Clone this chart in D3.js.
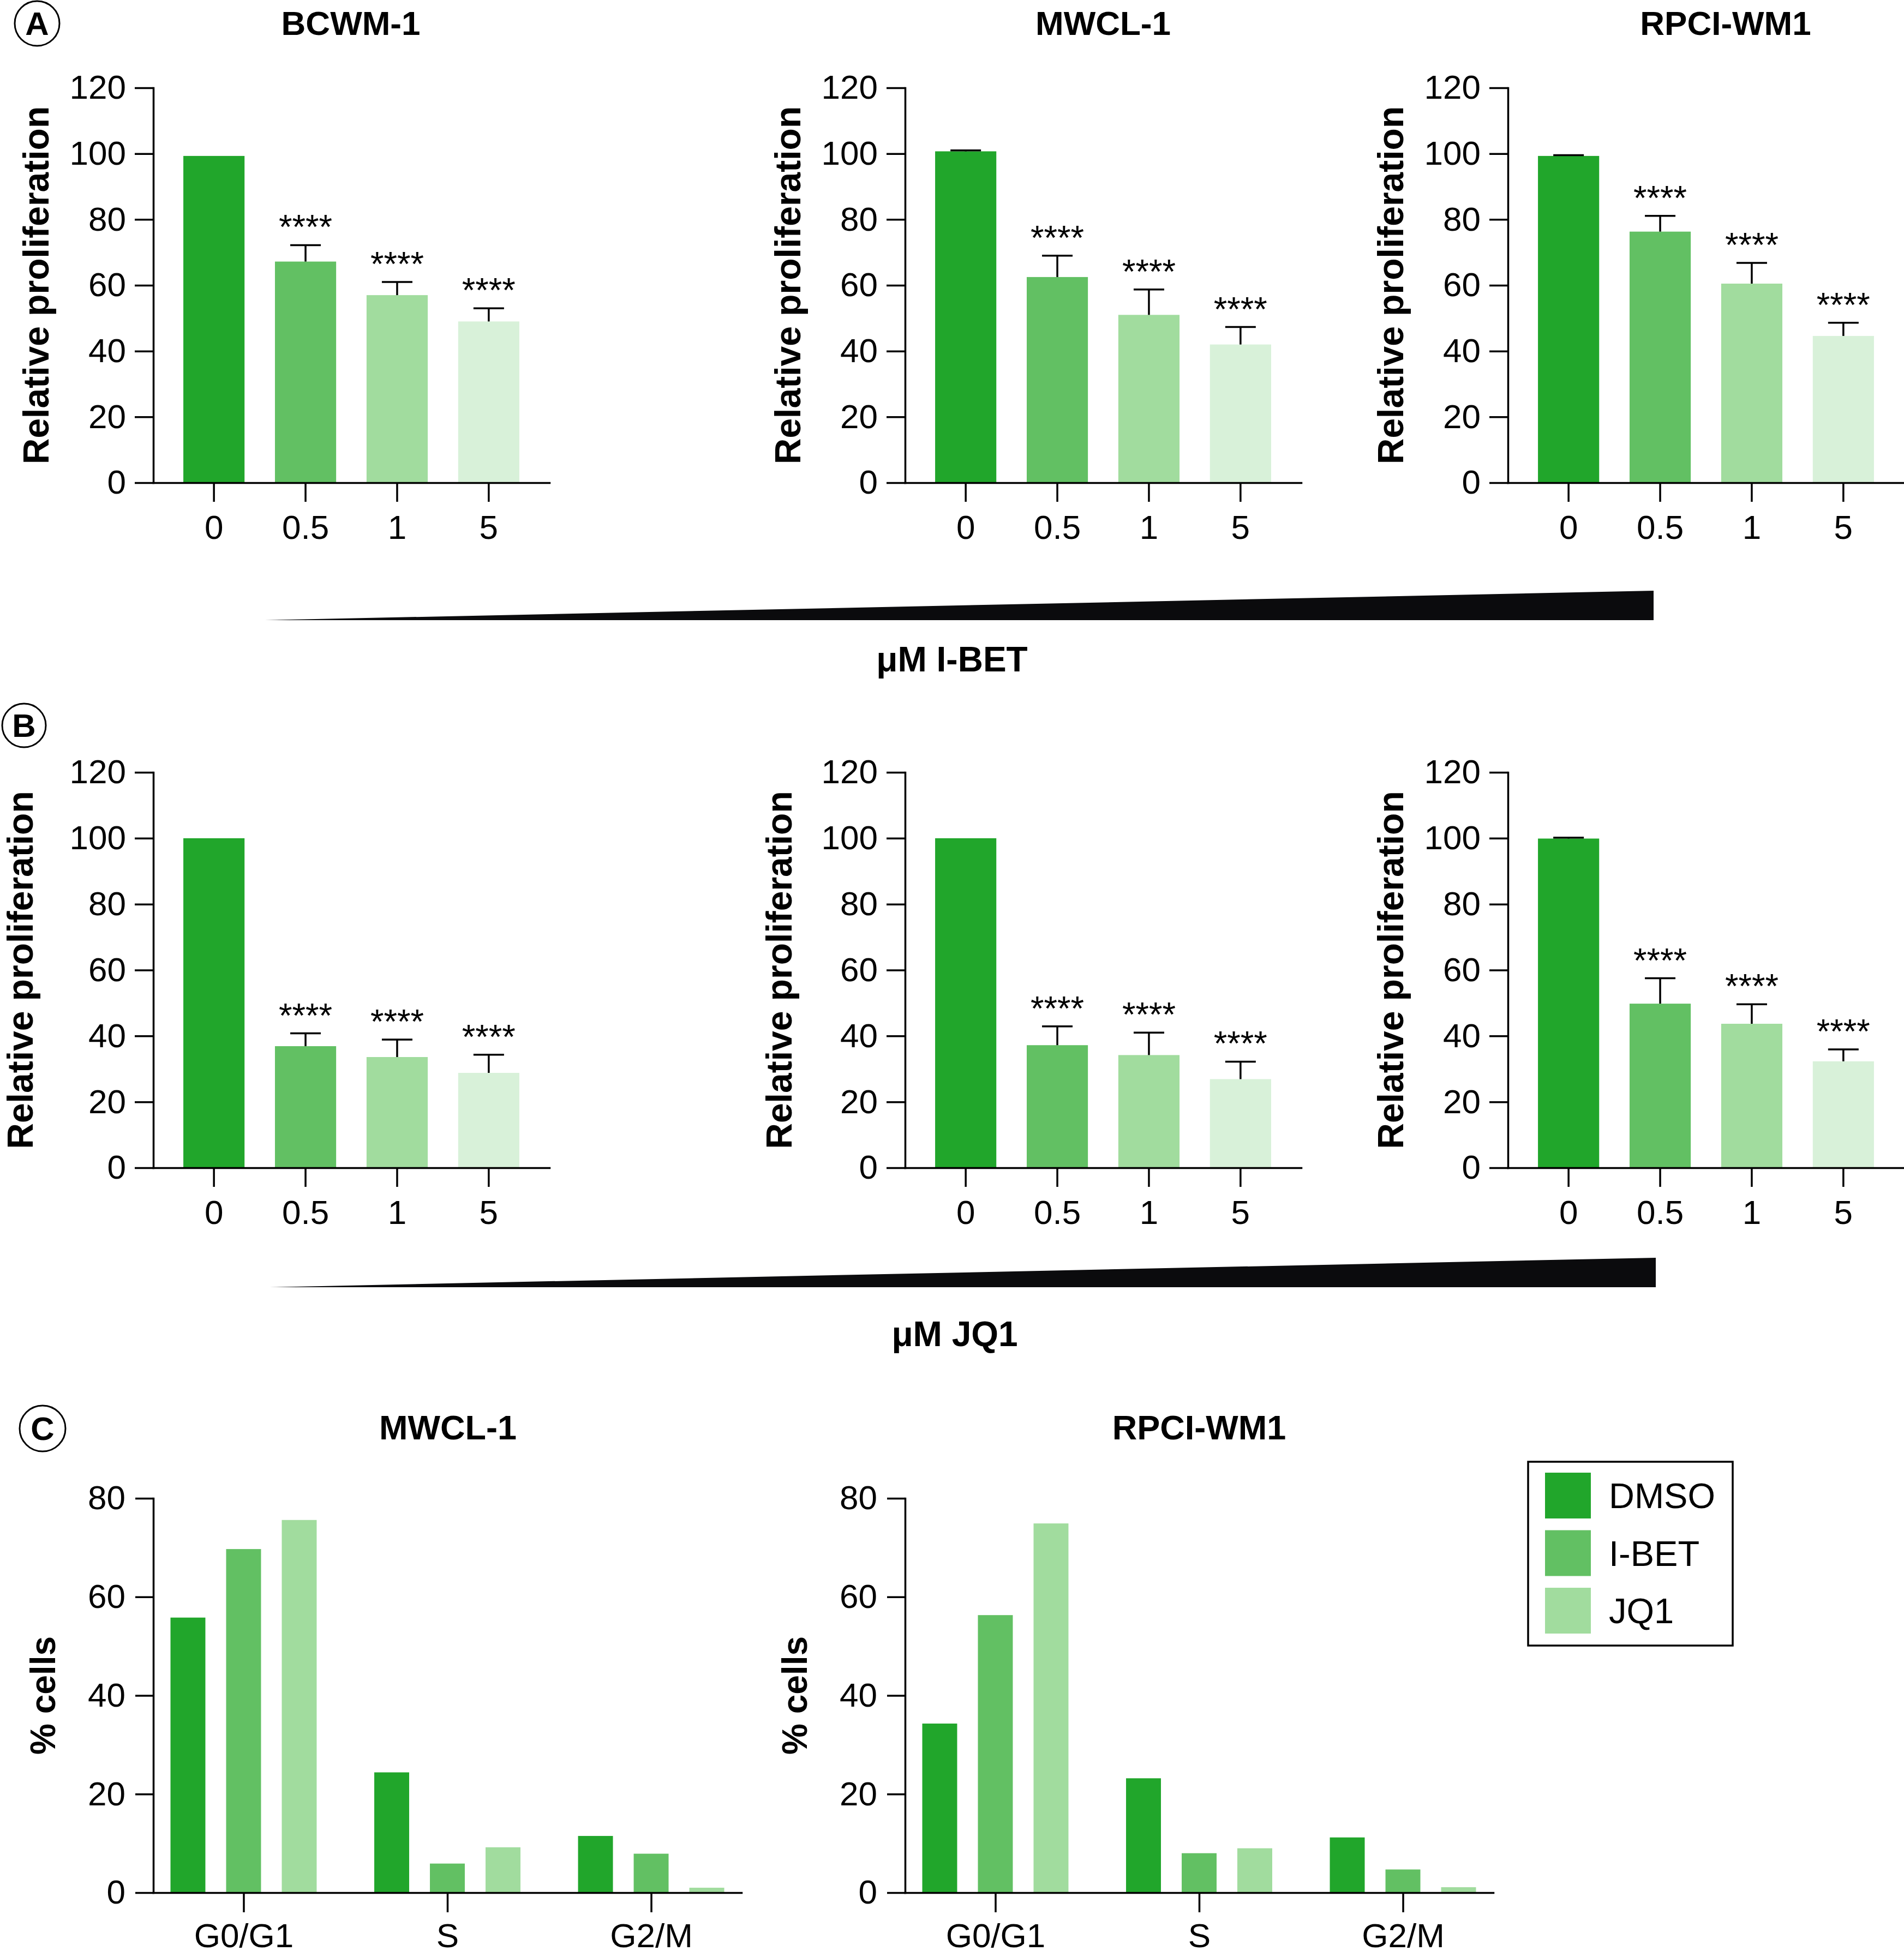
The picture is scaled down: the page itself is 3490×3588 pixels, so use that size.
<!DOCTYPE html>
<html>
<head>
<meta charset="utf-8">
<script src="https://cdn.jsdelivr.net/npm/d3@7"></script>
<style>
  html, body { margin: 0; padding: 0; background: #ffffff; }
  svg { display: block; }
  text { font-family: "Liberation Sans", Arial, Helvetica, sans-serif; fill: #000; }
</style>
</head>
<body>
<script>
// ---------------- DATA ----------------
const doses = ["0", "0.5", "1", "5"];
const cellLines = ["BCWM-1", "MWCL-1", "RPCI-WM1"];
const yTicksProlif = [0, 20, 40, 60, 80, 100, 120];

// Panel A: I-BET (relative proliferation, mean and upper error)
const ibetBCWM1 = [99.3, 67.2, 57.0, 49.0];
const ibetBCWM1Err = [0, 5.0, 4.0, 4.0];
const ibetMWCL1 = [100.7, 62.5, 51.0, 42.0];
const ibetMWCL1Err = [0.3, 6.5, 7.7, 5.3];
const ibetRPCI = [99.3, 76.3, 60.5, 44.6];
const ibetRPCIErr = [0.25, 4.8, 6.3, 4.0];

// Panel B: JQ1
const jq1BCWM1 = [100, 36.9, 33.6, 28.8];
const jq1BCWM1Err = [0, 3.9, 5.3, 5.5];
const jq1MWCL1 = [100, 37.2, 34.2, 26.9];
const jq1MWCL1Err = [0, 5.7, 6.8, 5.3];
const jq1RPCI = [99.9, 49.8, 43.7, 32.3];
const jq1RPCIErr = [0.3, 7.7, 5.9, 3.6];

const sigLabels = ["", "****", "****", "****"];

// Panel C: cell cycle (% cells), rows = phases, columns = treatments
const phases = ["G0/G1", "S", "G2/M"];
const treatments = ["DMSO", "I-BET", "JQ1"];
const yTicksCycle = [0, 20, 40, 60, 80];
const cycleMWCL1 = [[55.8, 69.7, 75.6], [24.4, 5.9, 9.2], [11.5, 7.9, 1.0]];
const cycleRPCI = [[34.3, 56.3, 74.9], [23.2, 8.0, 9.0], [11.2, 4.7, 1.1]];

// ---------------- STYLE ----------------
const doseColors = ["#21a62b", "#62c063", "#a1dc9e", "#d8f1d9"];
const treatColors = ["#21a62b", "#62c063", "#a1dc9e"];
const FONT = '"Liberation Sans", Arial, Helvetica, sans-serif';
const LW = 3.5;

const W = 3490, H = 3588;
const svg = d3.select("body").append("svg")
  .attr("width", W).attr("height", H)
  .attr("viewBox", `0 0 ${W} ${H}`);
svg.append("rect").attr("width", W).attr("height", H).attr("fill", "#fff");

function styleAxis(g, fs) {
  g.selectAll(".domain").attr("stroke", "#000").attr("stroke-width", LW).attr("stroke-linecap", "square");
  g.selectAll(".tick line").attr("stroke", "#000").attr("stroke-width", LW);
  g.selectAll(".tick text").attr("font-size", fs).attr("font-family", FONT).attr("fill", "#000");
}

function circleLabel(cx, cy, r, letter) {
  svg.append("circle").attr("cx", cx).attr("cy", cy).attr("r", r)
    .attr("fill", "none").attr("stroke", "#000").attr("stroke-width", 3);
  svg.append("text").attr("x", cx).attr("y", cy + 21)
    .attr("text-anchor", "middle").attr("font-size", 60).attr("font-weight", "bold")
    .text(letter);
}

// ---- proliferation bar chart ----
function prolifChart(x0, y0, y120, vals, errs, labelOffset) {
  const width = 726;
  const g = svg.append("g");
  const x = d3.scaleBand().domain(doses).range([x0, x0 + width])
    .paddingInner(0.332).paddingOuter(0.328);
  const y = d3.scaleLinear().domain([0, 120]).range([y0, y120]);

  g.selectAll("rect.bar").data(doses).join("rect")
    .attr("class", "bar")
    .attr("x", d => x(d))
    .attr("width", x.bandwidth())
    .attr("y", (d, i) => y(vals[i]))
    .attr("height", (d, i) => y(0) - y(vals[i]))
    .attr("fill", (d, i) => doseColors[i]);

  // error bars (upper only)
  const capHalf = 28;
  const eb = g.selectAll("g.err").data(doses.filter((d, i) => errs[i] > 0)).join("g").attr("class", "err");
  eb.append("line")
    .attr("x1", d => x(d) + x.bandwidth() / 2).attr("x2", d => x(d) + x.bandwidth() / 2)
    .attr("y1", d => y(vals[doses.indexOf(d)]))
    .attr("y2", d => y(vals[doses.indexOf(d)] + errs[doses.indexOf(d)]))
    .attr("stroke", "#000").attr("stroke-width", LW);
  eb.append("line")
    .attr("x1", d => x(d) + x.bandwidth() / 2 - capHalf).attr("x2", d => x(d) + x.bandwidth() / 2 + capHalf)
    .attr("y1", d => y(vals[doses.indexOf(d)] + errs[doses.indexOf(d)]))
    .attr("y2", d => y(vals[doses.indexOf(d)] + errs[doses.indexOf(d)]))
    .attr("stroke", "#000").attr("stroke-width", LW);

  // significance stars
  g.selectAll("text.sig").data(doses).join("text")
    .attr("class", "sig")
    .attr("x", d => x(d) + x.bandwidth() / 2)
    .attr("y", (d, i) => y(vals[i] + errs[i]) - 12)
    .attr("text-anchor", "middle").attr("font-size", 63)
    .text((d, i) => sigLabels[i]);

  const ya = g.append("g").attr("transform", `translate(${x0},0)`)
    .call(d3.axisLeft(y).tickValues(yTicksProlif).tickFormat(d3.format("d"))
      .tickSize(34).tickPadding(16).tickSizeOuter(0));
  styleAxis(ya, 62);
  const xa = g.append("g").attr("transform", `translate(0,${y0})`)
    .call(d3.axisBottom(x).tickSize(35).tickPadding(24).tickSizeOuter(0));
  styleAxis(xa, 62);

  g.append("text")
    .attr("transform", `translate(${x0 - labelOffset},${(y0 + y120) / 2}) rotate(-90)`)
    .attr("text-anchor", "middle").attr("font-size", 66).attr("font-weight", "bold")
    .text("Relative proliferation");
}

// ---- cell cycle grouped bar chart ----
function cycleChart(x0, y0, y80, data, title, titleX) {
  const width = 1078;
  const g = svg.append("g");
  const x = d3.scalePoint().domain(phases).range([x0, x0 + width]).padding(0.443);
  const xs = d3.scaleBand().domain(treatments).range([-153, 153])
    .paddingInner(0.373).paddingOuter(0.1865);
  const y = d3.scaleLinear().domain([0, 80]).range([y0, y80]);

  const grp = g.selectAll("g.phase").data(phases).join("g")
    .attr("class", "phase")
    .attr("transform", d => `translate(${x(d)},0)`);
  grp.selectAll("rect").data((d, i) => data[i].map((v, j) => ({ v, t: treatments[j], j })))
    .join("rect")
    .attr("x", d => xs(d.t))
    .attr("width", xs.bandwidth())
    .attr("y", d => y(d.v))
    .attr("height", d => y(0) - y(d.v))
    .attr("fill", d => treatColors[d.j]);

  const ya = g.append("g").attr("transform", `translate(${x0},0)`)
    .call(d3.axisLeft(y).tickValues(yTicksCycle).tickSize(33).tickPadding(18).tickSizeOuter(0));
  styleAxis(ya, 62);
  const xa = g.append("g").attr("transform", `translate(0,${y0})`)
    .call(d3.axisBottom(x).tickSize(36).tickPadding(20).tickSizeOuter(0));
  styleAxis(xa, 62);

  g.append("text")
    .attr("transform", `translate(${x0 - 180},${(y0 + y80) / 2}) rotate(-90)`)
    .attr("text-anchor", "middle").attr("font-size", 64).attr("font-weight", "bold")
    .text("% cells");

  g.append("text").attr("x", titleX).attr("y", 2639)
    .attr("text-anchor", "middle").attr("font-size", 63).attr("font-weight", "bold")
    .text(title);
}

// ---- dose wedge ----
function wedge(xLeft, xRight, yBase, hMax, label, labelX, labelY) {
  const wx = d3.scaleLinear().domain([0, 1]).range([xLeft, xRight]);
  const wh = d3.scaleLinear().domain([0, 1]).range([0, hMax]);
  const pts = [[wx(0), yBase - wh(0)], [wx(1), yBase - wh(1)], [wx(1), yBase], [wx(0), yBase]];
  svg.append("path").attr("d", d3.line()(pts) + "Z").attr("fill", "#0b0b0d");
  svg.append("text").attr("x", labelX).attr("y", labelY)
    .attr("text-anchor", "middle").attr("font-size", 64).attr("font-weight", "bold")
    .text(label);
}

// ---------------- LAYOUT ----------------
const chartX = [281, 1659, 2764];

// Panel A
circleLabel(68, 43, 41, "A");
const titleAX = [643, 2022, 3163];
cellLines.forEach((c, i) => {
  svg.append("text").attr("x", titleAX[i]).attr("y", 64)
    .attr("text-anchor", "middle").attr("font-size", 62).attr("font-weight", "bold").text(c);
});
prolifChart(chartX[0], 885, 161, ibetBCWM1, ibetBCWM1Err, 192);
prolifChart(chartX[1], 885, 161, ibetMWCL1, ibetMWCL1Err, 192);
prolifChart(chartX[2], 885, 161, ibetRPCI, ibetRPCIErr, 192);
wedge(486, 3031, 1137, 54, "μM I-BET", 1745, 1231);

// Panel B
circleLabel(44, 1330, 40, "B");
prolifChart(chartX[0], 2141, 1416, jq1BCWM1, jq1BCWM1Err, 221);
prolifChart(chartX[1], 2141, 1416, jq1MWCL1, jq1MWCL1Err, 208);
prolifChart(chartX[2], 2141, 1416, jq1RPCI, jq1RPCIErr, 192);
wedge(494, 3035, 2360, 54, "μM JQ1", 1750, 2468);

// Panel C
circleLabel(78, 2619, 42, "C");
cycleChart(chartX[0], 3470, 2747, cycleMWCL1, "MWCL-1", 821);
cycleChart(chartX[1], 3470, 2747, cycleRPCI, "RPCI-WM1", 2198);

// Legend
const lg = svg.append("g");
lg.append("rect").attr("x", 2801).attr("y", 2680).attr("width", 375).attr("height", 337)
  .attr("fill", "none").attr("stroke", "#000").attr("stroke-width", 3.5);
const legY = d3.scalePoint().domain(treatments).range([2742, 2953]);
lg.selectAll("rect.sw").data(treatments).join("rect")
  .attr("class", "sw")
  .attr("x", 2832).attr("y", d => legY(d) - 42)
  .attr("width", 84).attr("height", 84)
  .attr("fill", (d, i) => treatColors[i]);
lg.selectAll("text.lt").data(treatments).join("text")
  .attr("class", "lt")
  .attr("x", 2949).attr("y", d => legY(d) + 23)
  .attr("font-size", 65)
  .text(d => d);
</script>
</body>
</html>
